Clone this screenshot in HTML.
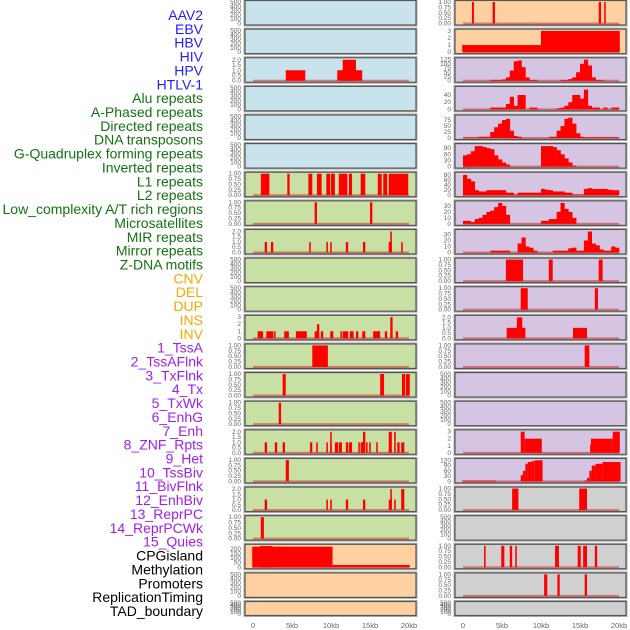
<!DOCTYPE html>
<html><head><meta charset="utf-8"><style>
html,body{margin:0;padding:0;background:#fff;}
svg{display:block;font-family:"Liberation Sans",sans-serif;}
</style></head><body>
<svg id="chart" width="630" height="630" viewBox="0 0 630 630" xmlns="http://www.w3.org/2000/svg"></svg>
<script>
// ---------- labels ----------
const trackLabels = ["AAV2","EBV","HBV","HIV","HPV","HTLV-1","Alu repeats","A-Phased repeats","Directed repeats","DNA transposons","G-Quadruplex forming repeats","Inverted repeats","L1 repeats","L2 repeats","Low_complexity A/T rich regions","Microsatellites","MIR repeats","Mirror repeats","Z-DNA motifs","CNV","DEL","DUP","INS","INV","1_TssA","2_TssAFlnk","3_TxFlnk","4_Tx","5_TxWk","6_EnhG","7_Enh","8_ZNF_Rpts","9_Het","10_TssBiv","11_BivFlnk","12_EnhBiv","13_ReprPC","14_ReprPCWk","15_Quies","CPGisland","Methylation","Promoters","ReplicationTiming","TAD_boundary"];
const labelGroups = [6,13,5,15,5];
const groupColors = ["#1f1fff","#137313","#ffa500","#a020f0","#000000"];
const xTickValues = [0,5,10,15,20];
const xTickLabels = ["0","5kb","10kb","15kb","20kb"];

// ---------- tick sets ----------
const ticksEmpty = [0,100,200,300,400,500];
const ticksUnit = [0,0.25,0.5,0.75,1];
const ticksTwo = [0,0.5,1,1.5,2];
const ticksThree = [0,1,2,3];
const ticks125 = [0,25,50,75,100,125];
const ticks40 = [0,20,40];
const ticks75 = [0,25,50,75];
const ticks90 = [0,30,60,90];
const ticks80 = [0,20,40,60,80];
const ticks30 = [0,10,20,30];
const ticks120 = [0,30,60,90,120];
const ticks200 = [0,50,100,150,200];

// ---------- left column segments [startKb, endKb, value] ----------
const leftHIV = [[4.2,6.7,1],[10.8,14.0,1],[11.5,13.2,2]];
const leftL1 = [[1.0,2.1,1],[4.4,4.7,1],[7.1,7.6,1],[8.2,8.8,1],[9.4,9.9,1],[10.0,10.5,1],[11.0,12.1,1],[12.3,12.7,1],[13.8,14.4,1],[16.0,16.5,1],[16.7,17.2,1],[17.4,19.9,1]];
const leftRow7 = [[7.9,8.2,1],[15.0,15.3,1]];
const leftRow8 = [[1.5,1.8,1],[2.3,2.6,1],[7.2,7.4,1],[9.4,9.6,1],[9.9,10.0,1],[11.9,12.2,1],[14.1,14.4,1],[17.4,17.8,1],[17.6,17.8,2],[19.0,19.2,1]];
const leftRow11 = [[0.6,1.3,1],[1.7,2.6,1],[2.7,2.9,1],[4.0,4.6,1],[5.5,6.9,1],[7.9,8.3,1],[8.2,8.5,2],[8.7,9.0,1],[9.9,10.3,1],[11.2,11.4,1],[11.5,12.2,1],[12.4,12.9,1],[13.2,13.5,1],[14.0,14.4,1],[15.4,16.3,1],[16.9,17.2,1],[17.6,17.9,3],[18.3,18.6,1]];
const leftRow12 = [[7.6,9.6,1]];
const leftRow13 = [[3.8,4.2,1],[16.3,16.8,1],[19.1,19.5,1],[19.6,20.1,1]];
const leftRow14 = [[3.3,3.6,1]];
const leftRow15 = [[1.5,1.8,1],[2.8,3.1,1],[3.8,4.1,1],[7.3,7.6,1],[8.1,8.3,1],[9.4,9.6,1],[9.9,10.1,1],[9.9,10.0,2],[10.5,10.9,1],[11.0,11.4,1],[11.9,12.2,1],[12.3,12.7,1],[13.5,13.7,1],[13.8,14.2,1],[14.1,14.4,2],[14.5,14.7,1],[14.9,15.1,1],[15.8,16.0,1],[17.4,17.8,2],[18.1,18.3,2],[18.5,18.8,1],[19.0,19.4,1]];
const leftRow16 = [[4.2,4.6,1]];
const leftRow17 = [[1.5,1.8,1],[9.4,9.6,1],[9.9,10.1,1],[11.9,12.2,1],[14.1,14.4,1],[17.4,17.8,1],[17.6,17.8,2],[18.1,18.3,1],[19.0,19.4,2]];
const leftRow18 = [[1.0,1.4,1]];
const leftCPG = [[-0.1,10.2,225],[0.9,2.5,232],[10.2,20.1,25]];

// ---------- right column ----------
const rightRow0 = [[1.15,1.4,1],[3.8,4.1,1],[17.4,17.7,1],[18.1,18.3,1]];
const rightRow1 = [[-0.1,10,1],[10,20.1,3]];
// binned rows: value per 0.5kb bin
const rightRow2 = [0,0,0,0,0,0,0,5,5,5,8,20,60,115,120,80,20,5,5,0,0,0,0,0,0,5,5,10,20,50,100,125,90,20,5,5,0,0,0,0];
const rightRow3 = [0,0,0,0,0,0,0,5,5,5,5,15,35,10,40,40,0,5,5,0,0,0,0,0,3,5,10,20,40,40,30,55,10,5,5,0,5,0,5,5];
const rightRow4 = [2,2,2,2,5,5,5,25,45,60,75,80,30,8,5,0,0,0,0,0,0,0,5,5,30,50,80,85,60,20,5,3,3,3,3,3,3,3,3,3];
const rightRow5 = [55,60,75,100,100,95,90,85,55,35,20,10,0,0,0,0,0,0,0,0,100,100,100,95,80,60,40,20,5,0,0,0,0,0,0,0,0,0,0,0];
const rightRow6 = [80,65,55,20,15,15,20,20,20,20,20,10,10,3,10,10,10,10,10,10,25,22,20,15,15,15,10,10,3,3,3,25,28,25,25,25,25,22,20,20];
const rightRow7 = [5,5,3,8,10,15,20,22,28,35,30,15,0,0,0,0,0,0,0,0,5,5,8,8,20,35,25,20,10,0,0,0,0,0,0,0,0,0,0,0];
const rightRow8 = [0,0,0,0,0,0,0,3,3,3,3,3,0,0,15,25,10,8,3,0,0,0,0,3,3,3,3,7,8,3,3,20,35,15,12,5,3,3,10,8];
const rightRow9 = [[5.5,7.7,1],[11.0,11.5,1],[17.4,17.9,1]];
const rightRow10 = [[7.4,8.3,1],[16.9,17.3,1]];
const rightRow11 = [[5.6,8.0,1],[6.9,7.6,2],[14.1,15.9,1]];
const rightRow12 = [[15.6,16.2,1]];
const rightRow15 = [[7.4,7.9,3],[7.9,10.1,2],[16.3,16.5,1.2],[16.4,19.2,2],[19.2,20.1,3]];
const rightRow16 = [[-0.1,4.2,5],[7.4,7.7,35],[7.7,8.0,60],[8.0,8.3,100],[8.3,8.8,110],[8.8,9.2,115],[9.2,10.2,120],[15.5,15.9,5],[15.9,16.2,20],[16.2,16.5,60],[16.5,17.0,90],[17.0,17.9,100],[17.9,20.2,110]];
const rightRow17 = [[6.3,7.1,1],[14.9,15.9,1]];
const rightRow19 = [[2.7,2.9,1],[4.9,5.3,1],[6.0,6.3,1],[6.7,6.9,1],[11.8,12.3,1],[14.7,15.1,1],[15.4,15.9,1],[16.9,17.2,1]];
const rightRow20 = [[10.4,10.8,1],[12.1,12.4,1],[15.6,15.9,1]];

const leftBg = ["#c8e3ec","#c8e3ec","#c8e3ec","#c8e3ec","#c8e3ec","#c8e3ec","#c8e0a4","#c8e0a4","#c8e0a4","#c8e0a4","#c8e0a4","#c8e0a4","#c8e0a4","#c8e0a4","#c8e0a4","#c8e0a4","#c8e0a4","#c8e0a4","#c8e0a4","#ffd0a0","#ffd0a0","#ffd0a0"];
const rightBg = ["#ffd0a0","#ffd0a0","#d5c5e2","#d5c5e2","#d5c5e2","#d5c5e2","#d5c5e2","#d5c5e2","#d5c5e2","#d5c5e2","#d5c5e2","#d5c5e2","#d5c5e2","#d5c5e2","#d5c5e2","#d5c5e2","#d5c5e2","#d0d0d0","#d0d0d0","#d0d0d0","#d0d0d0","#d0d0d0"];

// panel specs: [segments|bins|null, ticks, ymax, decimals]
const leftPanels = [
 [null,ticksEmpty],[null,ticksEmpty],[leftHIV,ticksTwo,2.05,1],[null,ticksEmpty],[null,ticksEmpty],[null,ticksEmpty],
 [leftL1,ticksUnit,1,2],[leftRow7,ticksUnit,1,2],[leftRow8,ticksTwo,2.05,1],[null,ticksEmpty],[null,ticksEmpty],
 [leftRow11,ticksThree,3.05,0],[leftRow12,ticksUnit,1,2],[leftRow13,ticksUnit,1,2],[leftRow14,ticksUnit,1,2],
 [leftRow15,ticksTwo,2.05,1],[leftRow16,ticksUnit,1,2],[leftRow17,ticksTwo,2.05,1],[leftRow18,ticksUnit,1,2],
 [leftCPG,ticks200,235,0],[null,ticksEmpty],[null,ticksEmpty]];
const rightPanels = [
 [rightRow0,ticksUnit,1,2],[rightRow1,ticksThree,3.05,0],[rightRow2,ticks125,127,0],[rightRow3,ticks40,60,0],
 [rightRow4,ticks75,90,0],[rightRow5,ticks90,105,0],[rightRow6,ticks80,85,0],[rightRow7,ticks30,36,0],[rightRow8,ticks30,36,0],
 [rightRow9,ticksUnit,1,2],[rightRow10,ticksUnit,1,2],[rightRow11,ticksTwo,2.05,1],[rightRow12,ticksUnit,1,2],
 [null,ticksEmpty],[null,ticksEmpty],[rightRow15,ticksThree,3.05,0],[rightRow16,ticks120,122,0],[rightRow17,ticksUnit,1,2],
 [null,ticksEmpty],[rightRow19,ticksUnit,1,2],[rightRow20,ticksUnit,1,2],[null,ticksEmpty]];

const NS = "http://www.w3.org/2000/svg";
const svg = document.getElementById("chart");
function mk(tag, attrs, parent){const e=document.createElementNS(NS,tag);for(const k in attrs)e.setAttribute(k,attrs[k]);(parent||svg).appendChild(e);return e;}

// labels
let gi=0, cnt=0;
trackLabels.forEach((t,i)=>{
  while(cnt>=labelGroups[gi]){gi++;cnt=0;}
  cnt++;
  const el=mk("text",{x:203,y:15+13.86*i,"text-anchor":"end","dominant-baseline":"central","font-size":"14",fill:groupColors[gi]});
  
  
  el.textContent=t;
});

const PX_PER_KB=7.8;
function drawColumn(panels,bgs,px,pw,x0,tickX,colName){
  const xs=kb=>x0+kb*PX_PER_KB;
  panels.forEach((p,r)=>{
    const top=0.5+28.62*r, h=(r===21?14:24.5);
    const g=mk("g",{});
    
    
    mk("rect",{x:px-1,y:top-1,width:pw+2,height:h+2,fill:"none",stroke:"#b0b0b0","stroke-width":1},g);
    const bg=mk("rect",{x:px,y:top,width:pw,height:h,fill:bgs[r]},g);
    
    
    const data=p[0], ticks=p[1];
    const ymax=p[2]||ticks[ticks.length-1], dec=p[3]||0;
    const y0=top+h-1.5, span=h-3;
    const ys=v=>y0-v/ymax*span;
    // tick labels
    ticks.forEach(tv=>{
      const t=mk("text",{x:tickX,y:(data?ys(tv):y0-tv/ticks[ticks.length-1]*span)+2,"text-anchor":"end","font-size":"6.5",fill:"#666"},g);
      
      
      t.textContent=data?tv.toFixed(dec):String(tv);
    });
    if(data){
      const bl=mk("rect",{x:xs(0),y:y0-1,width:xs(20)-xs(0),height:2,fill:"rgba(210,40,40,0.55)"},g);
      
      
      if(typeof data[0]==="number"){
        data.forEach((v,i)=>{
          if(v<=0)return;
          const b=mk("rect",{x:xs(i*0.5),y:ys(v),width:xs(i*0.5+0.5)-xs(i*0.5)+0.3,height:y0-ys(v),fill:"#ff0000"},g);
          
          
        });
      } else {
        data.forEach(s=>{
          const b=mk("rect",{x:xs(s[0]),y:ys(s[2]),width:Math.max(1.5,xs(s[1])-xs(s[0])),height:y0-ys(s[2]),fill:"#ff0000"},g);
          
          
        });
      }
    }
    mk("rect",{x:px,y:top,width:pw,height:h,fill:"none",stroke:"#555","stroke-width":1.2},g);
  });
  xTickValues.forEach((v,i)=>{
    const t=mk("text",{x:xs(v),y:628,"text-anchor":"middle","font-size":"7.5",fill:"#666"});
    
    
    t.textContent=xTickLabels[i];
  });
}
drawColumn(leftPanels,leftBg,245,171,253,241,'left');
drawColumn(rightPanels,rightBg,455,171,463,451,'right');
</script>
</body></html>
